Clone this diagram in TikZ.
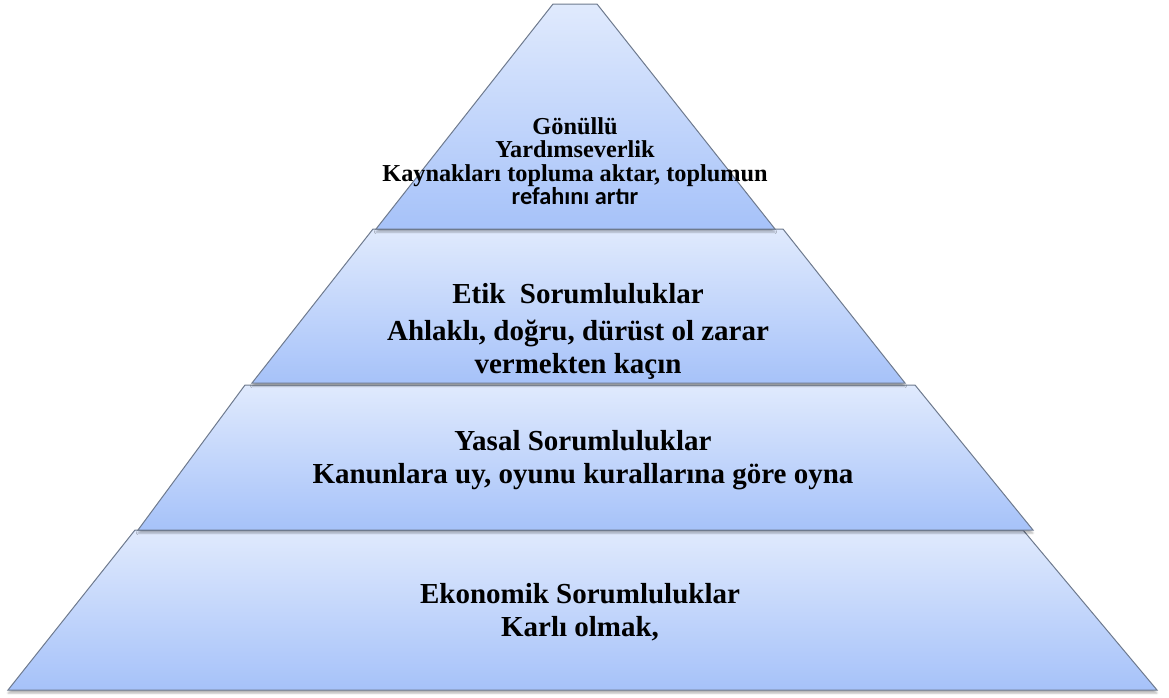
\documentclass[tikz,border=0pt]{standalone}
\usepackage{fontspec}
\setmainfont{Liberation Serif}
\newfontfamily\calibrifont{Carlito}
\usepackage{tikz}
\usetikzlibrary{shadows.blur}
\definecolor{tiertop}{HTML}{E0EAFD}
\definecolor{tierbottom}{HTML}{A6C2F9}
\definecolor{tierline}{HTML}{6E7A8E}

\begin{document}
\begin{tikzpicture}[x=1pt, y=-1pt,
  tier/.style={draw=tierline, line width=1pt, top color=tiertop, bottom color=tierbottom,
    blur shadow={shadow xshift=0pt, shadow yshift=-3pt, shadow opacity=30}},
  tiertext/.style={align=center, inner sep=0pt, font=\bfseries\fontsize{29}{33}\selectfont}]
  \useasboundingbox (0,0) rectangle (1169,697);

  % Katmanlar (alttan üste)
  \path[tier] (135,530) -- (1023,530) -- (1157,690) -- (8,690) -- cycle;
  \path[tier] (245,385) -- (915,385) -- (1033,530) -- (138,530) -- cycle;
  \path[tier] (373,229) -- (783,229) -- (905,383) -- (252,383) -- cycle;
  \path[tier] (553,4) -- (597,4) -- (775,229) -- (376,229) -- cycle;

  % Gönüllü sorumluluklar
  \node[align=center, inner sep=0pt, font=\bfseries\fontsize{24.3}{23.5}\selectfont] (gonullu) at (575,161)
    {Gönüllü\\ Yardımseverlik\\ Kaynakları topluma aktar, toplumun\\ {\calibrifont refahını artır}};

  % Etik sorumluluklar
  \node[tiertext] (etik) at (578,331) {Etik\ \ Sorumluluklar\\[4pt] Ahlaklı, doğru, dürüst ol zarar\\ vermekten kaçın};

  % Yasal sorumluluklar
  \node[tiertext] (yasal) at (583,460) {Yasal Sorumluluklar\\ Kanunlara uy, oyunu kurallarına göre oyna};

  % Ekonomik sorumluluklar
  \node[tiertext] (ekonomik) at (580,612) {Ekonomik Sorumluluklar\\ Karlı olmak,};
\end{tikzpicture}
\end{document}
